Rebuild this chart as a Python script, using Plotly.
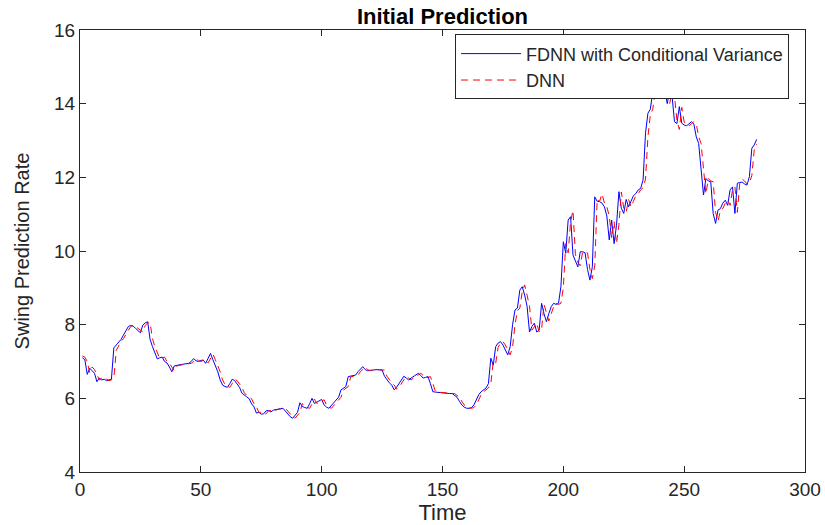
import plotly.graph_objects as go

# Time axis: one observation per step
time_steps = list(range(1, 281))

# Predicted swing rate from the FDNN model with conditional variance
fdnn = [
    7.10, 7.05, 6.65, 6.82, 6.75, 6.68, 6.45, 6.55, 6.50, 6.52,
    6.48, 6.50, 6.52, 7.37, 7.45, 7.54, 7.60, 7.72, 7.85, 7.95,
    7.98, 7.96, 7.90, 7.85, 7.78, 7.99, 8.05, 8.08, 7.60, 7.40,
    7.23, 7.07, 7.10, 7.12, 7.00, 6.96, 6.85, 6.72, 6.88, 6.90,
    6.92, 6.92, 6.93, 6.93, 6.95, 7.00, 7.08, 7.02, 7.00, 7.03,
    7.04, 6.95, 7.10, 7.22, 7.05, 6.90, 6.72, 6.50, 6.36, 6.32,
    6.30, 6.40, 6.52, 6.48, 6.40, 6.30, 6.14, 6.08, 6.04, 5.99,
    5.85, 5.77, 5.60, 5.62, 5.57, 5.58, 5.66, 5.67, 5.63, 5.68,
    5.70, 5.70, 5.72, 5.73, 5.65, 5.58, 5.50, 5.46, 5.55, 5.62,
    5.88, 5.78, 5.75, 5.73, 5.85, 6.00, 5.86, 5.90, 5.94, 5.97,
    5.82, 5.76, 5.73, 5.80, 5.87, 5.95, 6.03, 6.23, 6.28, 6.32,
    6.59, 6.60, 6.62, 6.63, 6.72, 6.80, 6.86, 6.78, 6.75, 6.76,
    6.77, 6.78, 6.78, 6.77, 6.77, 6.60, 6.50, 6.42, 6.36, 6.23,
    6.30, 6.40, 6.50, 6.60, 6.55, 6.50, 6.55, 6.59, 6.64, 6.68,
    6.62, 6.55, 6.57, 6.59, 6.40, 6.18, 6.17, 6.16, 6.16, 6.14,
    6.13, 6.12, 6.13, 6.13, 6.08, 6.03, 5.92, 5.82, 5.76, 5.73,
    5.73, 5.75, 5.82, 5.95, 6.10, 6.18, 6.22, 6.28, 6.40, 7.09,
    6.90, 7.40, 7.50, 7.54, 7.45, 7.30, 7.18, 7.40, 8.00, 8.40,
    8.45, 8.94, 9.03, 8.80, 8.50, 7.80, 7.95, 8.04, 7.80, 7.85,
    8.58, 8.30, 8.08, 8.30, 8.49, 8.58, 8.55, 8.58, 9.03, 10.25,
    9.94, 10.84, 10.93, 9.89, 9.70, 9.57, 9.98, 9.98, 9.95, 9.50,
    9.21, 9.57, 11.47, 11.35, 11.34, 11.30, 11.20, 10.95, 10.30, 10.84,
    10.20, 10.70, 11.61, 11.16, 11.02, 11.40, 11.20, 11.35, 11.50, 11.56,
    11.66, 11.70, 11.93, 13.20, 13.74, 13.85, 14.37, 14.80, 15.00, 14.90,
    14.60, 14.37, 14.00, 14.37, 14.20, 13.51, 13.46, 13.92, 13.47, 13.42,
    13.40, 13.45, 13.51, 13.45, 13.10, 12.92, 12.20, 11.52, 11.97, 11.90,
    11.88, 11.02, 10.75, 11.11, 11.15, 11.30, 11.38, 11.24, 11.66, 11.74,
    11.02, 11.84, 11.86, 11.87, 11.82, 11.79, 12.02, 12.79, 12.88, 13.03,
]

# Predicted swing rate from the plain DNN model
dnn = [
    7.15, 7.12, 7.00, 6.70, 6.85, 6.78, 6.65, 6.50, 6.55, 6.50,
    6.52, 6.48, 6.50, 6.55, 7.30, 7.45, 7.55, 7.62, 7.75, 7.85,
    7.95, 7.98, 7.95, 7.90, 7.85, 7.80, 7.98, 8.05, 8.05, 7.62,
    7.40, 7.25, 7.08, 7.10, 7.12, 7.00, 6.95, 6.85, 6.75, 6.88,
    6.90, 6.92, 6.92, 6.93, 6.93, 6.95, 7.00, 7.08, 7.02, 7.00,
    7.03, 7.04, 6.96, 7.10, 7.20, 7.05, 6.90, 6.72, 6.50, 6.38,
    6.32, 6.30, 6.40, 6.52, 6.48, 6.40, 6.30, 6.15, 6.08, 6.04,
    5.99, 5.85, 5.77, 5.62, 5.62, 5.57, 5.58, 5.66, 5.67, 5.63,
    5.68, 5.70, 5.70, 5.72, 5.73, 5.65, 5.58, 5.50, 5.46, 5.55,
    5.62, 5.86, 5.78, 5.75, 5.73, 5.85, 5.98, 5.86, 5.90, 5.94,
    5.96, 5.82, 5.76, 5.73, 5.80, 5.87, 5.95, 6.03, 6.22, 6.28,
    6.32, 6.58, 6.60, 6.62, 6.63, 6.72, 6.80, 6.85, 6.78, 6.75,
    6.76, 6.77, 6.78, 6.78, 6.77, 6.77, 6.60, 6.50, 6.42, 6.36,
    6.25, 6.30, 6.40, 6.50, 6.60, 6.55, 6.50, 6.55, 6.59, 6.64,
    6.68, 6.62, 6.55, 6.57, 6.59, 6.40, 6.20, 6.17, 6.16, 6.16,
    6.14, 6.13, 6.12, 6.13, 6.13, 6.08, 6.03, 5.92, 5.82, 5.76,
    5.73, 5.73, 5.75, 5.82, 5.95, 6.10, 6.18, 6.22, 6.28, 6.40,
    7.00, 6.95, 7.38, 7.50, 7.54, 7.45, 7.30, 7.18, 7.40, 8.00,
    8.38, 8.45, 8.90, 9.08, 8.80, 8.50, 7.85, 7.95, 8.04, 7.80,
    7.88, 8.55, 8.30, 8.10, 8.30, 8.49, 8.58, 8.55, 8.58, 9.00,
    10.20, 9.95, 10.80, 11.10, 9.90, 9.70, 9.60, 9.98, 9.98, 9.95,
    9.50, 9.25, 9.60, 11.40, 11.35, 11.55, 11.30, 11.20, 10.95, 10.35,
    10.80, 10.20, 10.72, 11.60, 11.16, 11.05, 11.40, 11.20, 11.35, 11.50,
    11.56, 11.66, 11.72, 11.95, 13.10, 13.70, 13.85, 14.35, 14.80, 15.00,
    14.90, 14.60, 14.40, 14.00, 14.35, 14.20, 13.55, 13.30, 13.90, 13.50,
    13.42, 13.40, 13.45, 13.51, 13.45, 13.10, 12.92, 12.20, 11.55, 11.97,
    11.90, 11.88, 11.05, 10.80, 11.11, 11.15, 11.30, 11.38, 11.24, 11.66,
    11.74, 11.05, 11.84, 11.95, 11.90, 11.82, 11.85, 12.05, 12.75, 12.90,
]

x_ticks = [0, 50, 100, 150, 200, 250, 300]
y_ticks = [4, 6, 8, 10, 12, 14, 16]

FONT = "Liberation Sans, Arial, sans-serif"
AXIS_COLOR = "#262626"

fig = go.Figure()
fig.add_trace(go.Scatter(
    x=time_steps, y=fdnn, mode="lines",
    name="FDNN with Conditional Variance",
    line=dict(color="#0000ff", width=1),
))
fig.add_trace(go.Scatter(
    x=time_steps, y=dnn, mode="lines",
    name="DNN",
    line=dict(color="#ff0000", width=1, dash="7px,5px"),
))

axis_common = dict(
    showline=True, linecolor=AXIS_COLOR, linewidth=1, mirror="ticks",
    ticks="inside", ticklen=6, tickcolor=AXIS_COLOR, tickwidth=1,
    showgrid=False, zeroline=False, automargin=False,
    tickfont=dict(family=FONT, size=19, color=AXIS_COLOR),
)

fig.update_xaxes(
    range=[0, 300], tickvals=x_ticks,
    title=dict(text="Time", font=dict(family=FONT, size=22, color=AXIS_COLOR), standoff=11),
    **axis_common,
)
fig.update_yaxes(
    range=[4, 16], tickvals=y_ticks,
    title=dict(text="Swing Prediction Rate", font=dict(family=FONT, size=20, color=AXIS_COLOR), standoff=19),
    **axis_common,
)

fig.update_layout(
    width=825, height=525,
    margin=dict(l=80, r=20, t=30, b=53),
    paper_bgcolor="white", plot_bgcolor="white",
    title=dict(
        text="<b>Initial Prediction</b>",
        x=0.5363, xanchor="center", y=0.9695, yanchor="middle",
        font=dict(family=FONT, size=22, color="black"),
    ),
    legend=dict(
        x=0.978, xanchor="right", y=0.99, yanchor="top",
        bgcolor="white", bordercolor=AXIS_COLOR, borderwidth=1,
        font=dict(family=FONT, size=18, color=AXIS_COLOR),
        itemwidth=60, tracegroupgap=0,
    ),
    showlegend=True,
)

fig.write_html("out.html")
